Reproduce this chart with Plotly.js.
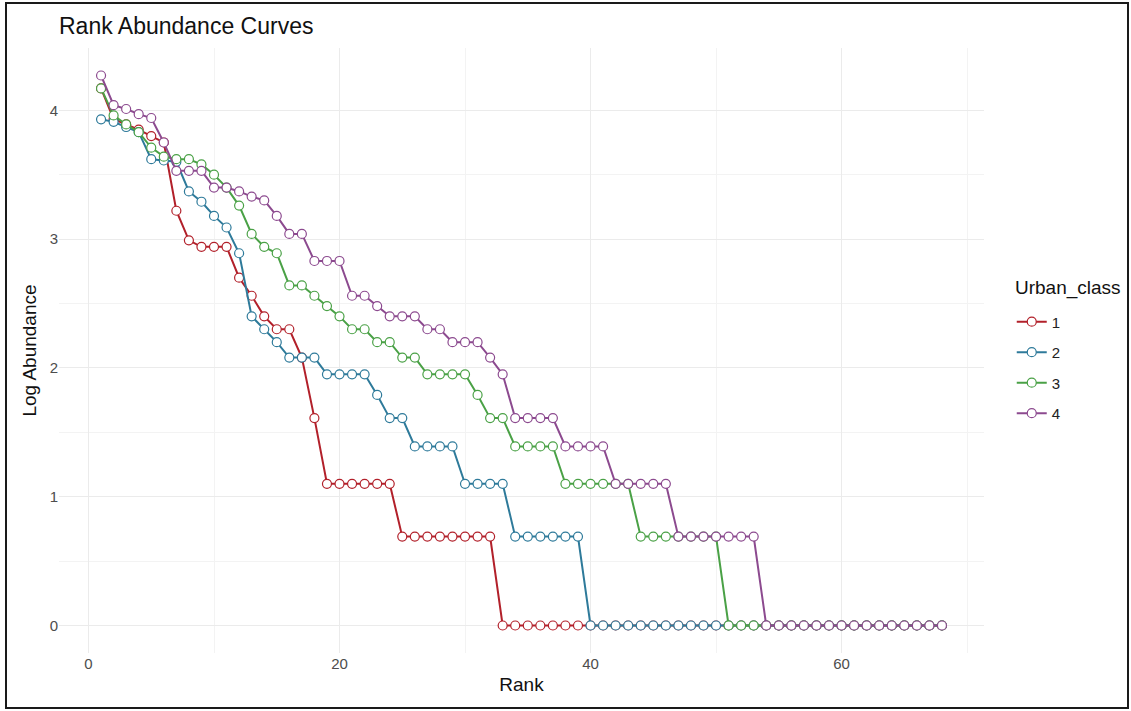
<!DOCTYPE html>
<html>
<head>
<meta charset="utf-8">
<script src="https://cdn.plot.ly/plotly-3.0.1.min.js"></script>
<style>
  html, body { margin: 0; padding: 0; background: #fff; }
  #wrap { position: relative; width: 1131px; height: 711px; }
  #chart { width: 1131px; height: 711px; }
  #frame { position: absolute; left: 5px; top: 2px; width: 1120px; height: 703px;
           border: 2px solid #1a1a1a; pointer-events: none; }
</style>
</head>
<body>
<div id="wrap"><div id="chart"></div><div id="frame"></div></div>
<script>
const ranks = [1,2,3,4,5,6,7,8,9,10,11,12,13,14,15,16,17,18,19,20,
  21,22,23,24,25,26,27,28,29,30,31,32,33,34,35,36,37,38,39,40,
  41,42,43,44,45,46,47,48,49,50,51,52,53,54,55,56,57,58,59,60,
  61,62,63,64,65,66,67,68];

const classNames = ["1", "2", "3", "4"];
const legendTitle = "Urban_class";

const class1 = [4.17,3.93,3.89,3.85,3.80,3.75,3.22,2.99,2.94,2.94,2.94,2.70,2.56,2.40,2.30,2.30,2.08,1.61,
  1.10,1.10,1.10,1.10,1.10,1.10,
  0.69,0.69,0.69,0.69,0.69,0.69,0.69,0.69,
  0,0,0,0,0,0,0,0,0,0,0,0,0,0,0,0,0,0,0,0,0,0,0,0,0,0,0,0,0,0,0,0,0,0,0,0];

const class2 = [3.93,3.91,3.87,3.83,3.62,3.61,3.60,3.37,3.29,3.18,3.09,2.89,2.40,2.30,2.20,2.08,2.08,2.08,
  1.95,1.95,1.95,1.95,1.79,1.61,1.61,
  1.39,1.39,1.39,1.39,1.10,1.10,1.10,1.10,
  0.69,0.69,0.69,0.69,0.69,0.69,
  0,0,0,0,0,0,0,0,0,0,0,0,0,0,0,0,0,0,0,0,0,0,0,0,0,0,0,0,0];

const class3 = [4.17,3.96,3.89,3.83,3.71,3.64,3.62,3.62,3.58,3.50,3.40,3.26,3.04,2.94,2.89,2.64,2.64,2.56,
  2.48,2.40,2.30,2.30,2.20,2.20,2.08,2.08,
  1.95,1.95,1.95,1.95,1.79,1.61,1.61,
  1.39,1.39,1.39,1.39,1.10,1.10,1.10,1.10,1.10,1.10,
  0.69,0.69,0.69,0.69,0.69,0.69,0.69,
  0,0,0,0,0,0,0,0,0,0,0,0,0,0,0,0,0,0];

const class4 = [4.27,4.04,4.01,3.97,3.94,3.75,3.53,3.53,3.53,3.40,3.40,3.37,3.33,3.30,3.18,3.04,3.04,
  2.83,2.83,2.83,2.56,2.56,2.48,2.40,2.40,2.40,2.30,2.30,2.20,2.20,2.20,2.08,1.95,
  1.61,1.61,1.61,1.61,1.39,1.39,1.39,1.39,1.10,1.10,1.10,1.10,1.10,
  0.69,0.69,0.69,0.69,0.69,0.69,0.69,
  0,0,0,0,0,0,0,0,0,0,0,0,0,0,0];

const seriesValues = [class1, class2, class3, class4];
const colors = ["#B2202A", "#2E7A9A", "#4AA146", "#8C4A8F"];

const traces = seriesValues.map((vals, i) => ({
  type: "scatter",
  mode: "lines+markers",
  x: ranks,
  y: vals,
  name: classNames[i],
  legendgroup: "g" + i,
  line: { color: colors[i], width: 2 },
  marker: { symbol: "circle", size: 9, color: "#ffffff", line: { color: colors[i], width: 1.2 } }
}));

const font = "Liberation Sans, Arial, sans-serif";

const layout = {
  width: 1131, height: 711,
  paper_bgcolor: "#ffffff", plot_bgcolor: "#ffffff",
  margin: { l: 59, r: 147, t: 48, b: 58 },
  font: { family: font, color: "#222" },
  title: { text: "Rank Abundance Curves", x: 0, xref: "paper", xanchor: "left",
           y: 0.964, yref: "container", yanchor: "middle",
           font: { family: font, size: 23, color: "#111" } },
  xaxis: {
    range: [-2.35, 71.35], tickvals: [0, 20, 40, 60], ticktext: ["0", "20", "40", "60"],
    showgrid: true, gridcolor: "#EBEBEB", gridwidth: 1, zeroline: false, showline: false,
    ticks: "", tickfont: { family: font, size: 15, color: "#4D4D4D" },
    minor: { tickvals: [10, 30, 50, 70], showgrid: true, gridcolor: "#F3F3F3", gridwidth: 1 },
    title: { text: "Rank", font: { family: font, size: 19, color: "#111" }, standoff: 6 }
  },
  yaxis: {
    range: [-0.2135, 4.4835], tickvals: [0, 1, 2, 3, 4], ticktext: ["0", "1", "2", "3", "4"],
    showgrid: true, gridcolor: "#EBEBEB", gridwidth: 1, zeroline: false, showline: false,
    ticks: "", tickfont: { family: font, size: 15, color: "#4D4D4D" },
    minor: { tickvals: [0.5, 1.5, 2.5, 3.5], showgrid: true, gridcolor: "#F3F3F3", gridwidth: 1 },
    title: { text: "Log Abundance", font: { family: font, size: 19, color: "#111" }, standoff: 8 }
  },
  legend: {
    x: 1.03, xanchor: "left", y: 0.472, yanchor: "middle",
    font: { family: font, size: 15, color: "#222" },
    tracegroupgap: 8, bgcolor: "rgba(0,0,0,0)"
  },
  annotations: [{
    text: legendTitle, xref: "paper", yref: "paper", x: 1.03, y: 0.603,
    xanchor: "left", yanchor: "middle", xshift: 1, showarrow: false,
    font: { family: font, size: 19, color: "#111" }
  }],
  showlegend: true
};

Plotly.newPlot("chart", traces, layout, { displayModeBar: false, staticPlot: true });
</script>
</body>
</html>
